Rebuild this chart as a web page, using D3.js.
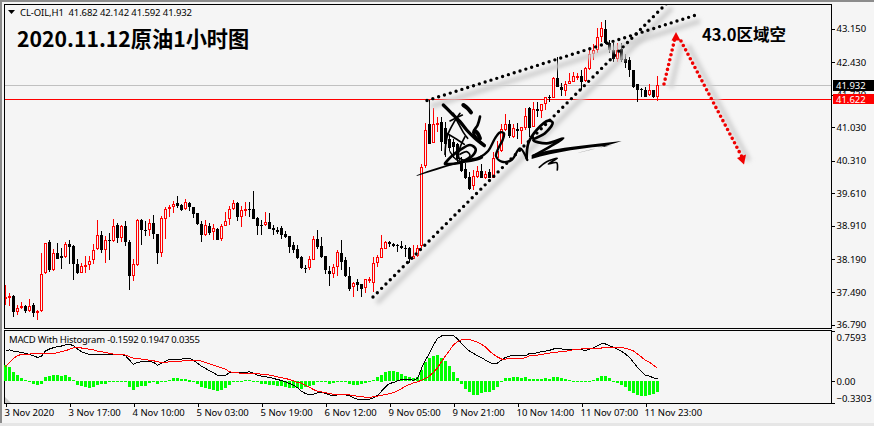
<!DOCTYPE html>
<html><head><meta charset="utf-8">
<script src="https://cdn.jsdelivr.net/npm/d3@7/dist/d3.min.js"></script>
<style>
html,body{margin:0;padding:0;background:#f5f5f5;overflow:hidden}
svg{display:block}
text{font-family:"Noto Sans",sans-serif;fill:#000}
</style></head><body><div id="c"></div>
<script>
const title="2020.11.12原油1小时图", note="43.0区域空";
const header="CL-OIL,H1  41.682 42.142 41.592 41.932";
const macdLabel="MACD With Histogram -0.1592 0.1947 0.0355";
const timeLabels=["3 Nov 2020","3 Nov 17:00","4 Nov 10:00","5 Nov 03:00","5 Nov 19:00","6 Nov 12:00","9 Nov 05:00","9 Nov 21:00","10 Nov 14:00","11 Nov 07:00","11 Nov 23:00"];
const timeBars=[0,16,32,48,64,80,96,112,128,144,160];
const priceTicks=[43.15,42.43,41.73,41.03,40.31,39.61,38.91,38.19,37.49,36.79];
const lastPrice=41.932, askPrice=41.622;
const macdTicks=[0.7593,0,-0.3303];
const highs=[37.65,37.47,37.42,37.22,37.28,37.21,37.35,37.26,37.11,38.32,38.55,38.60,38.42,38.55,38.44,38.56,38.60,38.51,38.21,38.12,38.27,38.27,38.52,39.03,38.80,38.69,38.76,39.05,38.97,38.94,39.01,38.60,38.19,39.06,39.06,39.01,39.05,39.15,38.74,39.13,39.32,39.37,39.44,39.55,39.39,39.48,39.43,39.32,39.18,39.01,39.03,38.97,38.96,38.87,38.95,39.22,39.33,39.46,39.42,39.33,39.43,39.43,39.65,39.10,39.03,39.21,39.19,38.94,38.89,38.90,38.80,38.70,38.56,38.51,38.26,38.08,38.26,38.69,38.83,38.67,38.27,38.04,38.10,38.40,38.60,38.24,38.03,37.71,37.78,37.67,37.78,37.81,38.24,38.29,38.72,38.58,38.58,38.55,38.53,38.58,38.51,38.45,38.50,38.51,40.25,41.13,41.62,41.45,41.26,41.24,41.15,40.87,40.77,40.70,40.40,40.27,40.06,40.12,40.19,40.23,40.10,40.14,40.49,40.74,41.09,41.32,41.19,41.09,41.13,41.04,41.45,41.47,41.58,41.58,41.52,41.69,41.73,42.10,42.53,41.99,42.03,42.20,42.22,42.20,42.27,42.33,42.70,42.81,43.17,43.30,43.34,42.91,42.85,42.85,42.85,42.61,42.55,42.27,41.97,41.88,41.90,41.97,41.84,42.142];
const lows=[37.22,37.18,36.95,36.99,37.13,37.04,37.06,36.95,36.88,37.06,37.87,37.92,37.94,38.19,37.99,38.22,38.09,37.74,37.87,37.89,37.89,37.97,38.10,38.40,38.32,38.12,38.17,38.56,38.55,38.57,38.47,37.54,37.72,38.04,38.51,38.69,38.69,38.62,38.10,38.25,38.63,39.10,39.19,39.30,39.23,39.25,39.23,39.08,38.92,38.56,38.70,38.72,38.60,38.60,38.58,38.90,38.92,39.26,39.01,38.88,39.12,39.10,39.05,38.71,38.71,38.90,38.85,38.71,38.74,38.62,38.65,38.32,38.32,38.21,37.99,37.89,37.96,38.17,38.42,38.22,37.87,37.63,37.79,37.83,37.97,37.81,37.51,37.38,37.51,37.38,37.46,37.69,37.49,38.03,38.22,38.42,38.46,38.46,38.34,38.42,38.24,38.12,38.19,38.24,38.44,40.16,40.68,40.70,40.92,40.51,40.40,40.51,40.38,40.27,40.06,39.91,39.69,39.69,39.95,39.93,39.91,39.93,39.93,40.38,40.49,40.96,40.81,40.81,40.77,40.66,40.98,40.83,41.04,41.26,41.22,41.41,41.58,41.65,41.90,41.71,41.71,41.95,42.01,42.05,41.84,42.01,42.27,42.48,42.63,42.87,42.81,42.63,42.44,42.44,42.44,42.31,42.12,41.88,41.58,41.67,41.67,41.71,41.65,41.592];
const opens=[37.36,37.36,37.41,37.06,37.14,37.20,37.08,37.22,37.04,37.08,37.89,38.56,37.96,38.32,38.27,38.24,38.53,38.47,38.10,37.89,38.04,38.06,38.17,38.42,38.72,38.39,38.60,38.58,38.92,38.64,38.90,38.57,37.84,38.06,39.03,38.83,38.82,38.98,38.74,38.32,39.05,39.27,39.32,39.41,39.35,39.27,39.41,39.32,39.18,38.95,38.72,38.91,38.78,38.85,38.62,38.91,39.06,39.28,39.40,39.10,39.25,39.28,39.28,39.07,38.94,38.93,39.00,38.87,38.83,38.87,38.74,38.70,38.49,38.42,38.24,38.01,38.00,38.17,38.62,38.47,38.27,37.95,37.87,38.03,38.32,38.17,37.84,37.59,37.71,37.67,37.57,37.75,37.69,38.12,38.23,38.42,38.57,38.53,38.50,38.47,38.44,38.44,38.21,38.26,38.47,40.19,41.11,40.70,41.11,41.15,41.02,40.77,40.72,40.66,40.27,40.14,39.97,39.76,39.97,40.08,39.95,40.06,39.95,40.38,40.51,40.98,41.09,40.83,41.00,40.94,41.02,41.45,41.04,41.43,41.37,41.52,41.69,41.65,42.08,41.90,41.80,41.97,42.01,42.12,42.14,42.03,42.29,42.61,42.68,42.98,43.15,42.85,42.70,42.50,42.72,42.50,42.48,42.27,41.95,41.86,41.82,41.73,41.82,41.682];
const closes=[37.38,37.40,37.06,37.15,37.20,37.08,37.20,37.03,37.08,37.88,38.55,37.96,38.32,38.21,38.23,38.53,38.45,38.09,37.89,38.05,38.07,38.16,38.40,38.72,38.39,38.60,38.58,38.90,38.64,38.90,38.56,37.84,38.10,39.03,38.83,38.82,38.97,38.73,38.32,39.09,39.28,39.32,39.38,39.33,39.25,39.43,39.31,39.16,38.95,38.71,38.93,38.76,38.87,38.60,38.91,39.02,39.28,39.40,39.10,39.25,39.28,39.25,39.05,38.90,38.90,39.00,38.85,38.82,38.77,38.71,38.67,38.45,38.39,38.23,38.00,38.00,38.21,38.62,38.45,38.24,37.96,37.87,38.03,38.34,38.13,37.84,37.56,37.69,37.65,37.56,37.76,37.78,38.12,38.25,38.44,38.57,38.52,38.48,38.47,38.43,38.42,38.21,38.27,38.44,40.17,40.98,40.68,41.11,41.13,40.72,40.66,40.59,40.61,40.34,40.08,39.95,39.71,39.99,40.08,39.95,40.03,39.95,40.38,40.51,41.00,41.09,40.85,41.02,40.94,41.04,41.28,41.02,41.43,41.37,41.52,41.67,41.65,42.08,41.90,41.82,41.95,42.03,42.14,42.14,42.01,42.31,42.61,42.68,42.98,43.17,42.83,42.70,42.50,42.68,42.48,42.42,42.27,41.90,41.84,41.84,41.69,41.82,41.69,41.932];
const histogram=[.243,.218,.142,.091,.041,.015,-.010,-.041,-.061,-.041,.056,.076,.091,.091,.081,.091,.066,.015,-.061,-.071,-.091,-.101,-.091,-.066,-.051,-.051,-.020,-.010,-.010,-.010,-.020,-.091,-.132,-.091,-.081,-.071,-.030,-.020,-.051,-.020,-.003,.015,.041,.041,.030,.030,.025,-.005,-.051,-.086,-.101,-.122,-.137,-.147,-.137,-.101,-.061,-.020,-.010,-.005,.015,.015,-.005,-.020,-.051,-.051,-.061,-.061,-.076,-.081,-.086,-.101,-.112,-.112,-.127,-.096,-.076,-.061,-.020,-.010,-.010,-.046,-.025,-.010,-.020,-.020,-.051,-.061,-.061,-.051,-.035,-.010,.015,.056,.101,.142,.152,.152,.132,.106,.081,.056,.041,.061,.167,.284,.355,.385,.395,.355,.309,.233,.142,.041,-.051,-.122,-.162,-.208,-.208,-.188,-.172,-.162,-.137,-.096,-.020,.041,.051,.066,.066,.051,.066,.030,.030,.030,.030,.041,.030,.056,.056,.041,.030,.015,.010,.002,-.010,-.020,-.005,.015,.051,.076,.076,.041,-.010,-.035,-.061,-.096,-.147,-.177,-.213,-.228,-.223,-.213,-.198,-.1592];
const macdLine=[.456,.472,.456,.446,.436,.421,.406,.385,.360,.380,.456,.487,.507,.522,.532,.548,.558,.537,.487,.446,.421,.406,.406,.411,.411,.406,.406,.406,.406,.406,.385,.319,.254,.284,.294,.299,.299,.284,.243,.269,.304,.330,.335,.335,.335,.345,.345,.319,.269,.228,.193,.157,.127,.091,.081,.091,.127,.132,.132,.127,.132,.142,.117,.091,.076,.066,.056,.041,.025,.010,-.010,-.035,-.061,-.101,-.152,-.188,-.203,-.198,-.177,-.167,-.188,-.208,-.223,-.208,-.203,-.208,-.223,-.254,-.274,-.279,-.284,-.274,-.254,-.213,-.152,-.086,-.035,-.020,.005,.025,.025,.025,.015,.041,.193,.319,.421,.548,.649,.684,.695,.695,.690,.639,.573,.507,.456,.421,.385,.355,.319,.284,.264,.274,.319,.360,.380,.390,.390,.395,.385,.421,.421,.431,.446,.456,.466,.487,.497,.487,.482,.482,.482,.482,.477,.466,.482,.507,.537,.568,.563,.537,.512,.482,.451,.411,.360,.284,.208,.142,.091,.076,.051,.0355];
const signalLine=[.218,.284,.345,.385,.406,.411,.411,.416,.416,.416,.416,.416,.421,.431,.446,.461,.482,.507,.512,.502,.492,.482,.472,.456,.446,.436,.421,.411,.406,.406,.395,.370,.350,.340,.335,.324,.319,.309,.294,.284,.284,.294,.294,.299,.304,.314,.314,.314,.314,.304,.284,.264,.243,.223,.203,.183,.142,.132,.127,.117,.117,.117,.117,.112,.106,.106,.091,.081,.066,.051,.041,.025,.005,-.020,-.030,-.061,-.091,-.127,-.152,-.162,-.172,-.188,-.198,-.203,-.203,-.203,-.208,-.218,-.228,-.233,-.243,-.243,-.238,-.228,-.213,-.203,-.188,-.172,-.147,-.112,-.076,-.051,-.025,-.010,.015,.041,.081,.132,.203,.294,.385,.466,.548,.598,.624,.629,.629,.613,.588,.558,.517,.456,.406,.365,.335,.335,.340,.345,.345,.345,.355,.385,.390,.395,.406,.416,.426,.431,.441,.446,.451,.466,.477,.482,.487,.487,.487,.492,.497,.502,.507,.512,.512,.512,.507,.497,.482,.456,.411,.365,.314,.284,.243,.1947];

const W=874,H=426,BG="#f5f5f5",L=4,R=831,T1=4,B1=328,T2=330,B2=403;
const svg=d3.select("#c").append("svg").attr("width",W).attr("height",H);
const defs=svg.append("defs");
defs.append("filter").attr("id","soft").attr("filterUnits","userSpaceOnUse").attr("x",0).attr("y",0).attr("width",W).attr("height",H)
  .append("feGaussianBlur").attr("stdDeviation",2.2);
defs.append("clipPath").attr("id","mainClip").append("rect").attr("x",L+1).attr("y",T1+1).attr("width",R-L-1).attr("height",B1-T1-1);

svg.append("rect").attr("width",W).attr("height",H).attr("fill",BG);
svg.append("rect").attr("width",W).attr("height",2).attr("fill","#8c8c8c");
svg.append("rect").attr("width",2).attr("height",H).attr("fill","#8c8c8c");
svg.append("rect").attr("y",H-3).attr("width",W).attr("height",3).attr("fill","#e6e6e6");

const x=d3.scaleLinear().domain([0,163]).range([5,657]);
const y=d3.scaleLinear().domain([36.79,43.15]).range([324.6,28.6]);
const ym=d3.scaleLinear().domain([-0.3303,0.7593]).range([B2,T2+1]);
const idx=d3.range(highs.length);
const px=i=>Math.round(x(i));
const ry=v=>Math.round(y(v));

const main=svg.append("g").attr("clip-path","url(#mainClip)");
main.append("line").attr("x1",L).attr("x2",R).attr("y1",Math.floor(y(lastPrice))+.5).attr("y2",Math.floor(y(lastPrice))+.5).attr("stroke","#c0c0c0");
main.append("line").attr("x1",L).attr("x2",R).attr("y1",Math.floor(y(askPrice))+.5).attr("y2",Math.floor(y(askPrice))+.5).attr("stroke","#ff0000");

const cg=main.append("g").attr("shape-rendering","crispEdges");
const up=i=>closes[i]>=opens[i];
cg.selectAll("line.w").data(idx).join("line").attr("class","w")
  .attr("x1",i=>px(i)+.5).attr("x2",i=>px(i)+.5)
  .attr("y1",i=>ry(highs[i])).attr("y2",i=>ry(lows[i]))
  .attr("stroke",i=>up(i)?"#ff0000":"#000");
cg.selectAll("rect.b").data(idx.filter(i=>!up(i))).join("rect").attr("class","b")
  .attr("x",i=>px(i)-1).attr("width",3)
  .attr("y",i=>ry(opens[i])).attr("height",i=>Math.max(1,ry(closes[i])-ry(opens[i])))
  .attr("fill","#000");
cg.selectAll("rect.r").data(idx.filter(up)).join("rect").attr("class","r")
  .attr("x",i=>px(i)-.5).attr("width",2)
  .attr("y",i=>ry(closes[i])+.5).attr("height",i=>Math.max(1,ry(opens[i])-ry(closes[i])-1))
  .attr("fill",BG).attr("stroke","#ff0000");

// hand-drawn annotations (screen coordinates)
const trendA=[[373,297],[668,2]], trendB=[[427,100.5],[696,15]];
const arrowA=[[664,84],[675,38]], arrowB=[[681,41],[742,157]];
const ln=d3.line();
[trendA,trendB].forEach(p=>{
  const s=p.map(d=>[d[0]+4,d[1]+6]);
  main.append("path").attr("d",ln(s)).attr("stroke","#cfcfcf").attr("stroke-width",5).attr("fill","none").attr("filter","url(#soft)");
});
[arrowA,arrowB].forEach(p=>{
  const s=p.map(d=>[d[0]+7,d[1]+4]);
  main.append("path").attr("d",ln(s)).attr("stroke","#d2d2d2").attr("stroke-width",5).attr("fill","none").attr("filter","url(#soft)");
});
[trendA,trendB].forEach(p=>main.append("path").attr("d",ln(p)).attr("stroke","#000").attr("stroke-width",3.4).attr("stroke-linecap","round").attr("stroke-dasharray","0 6.1").attr("fill","none"));
[arrowA,arrowB].forEach(p=>main.append("path").attr("d",ln(p)).attr("stroke","#f00000").attr("stroke-width",3.6).attr("stroke-linecap","round").attr("stroke-dasharray","0 5").attr("fill","none"));
main.append("path").attr("d","M676 32L671.500 40.500L680.500 40.500Z").attr("fill","#f00000");
main.append("path").attr("d","M744 164.500L737 158L746 154.500Z").attr("fill","#f00000");

// signature: left part traced at 425,95 (3x), right part at 400,80 (3x)
const sl=d3.line().curve(d3.curveCatmullRom);
const sgA=main.append("g").attr("transform","translate(425,95) scale(0.3333)");
[
 [[[55,30],[80,55],[105,80],[125,105],[150,130],[178,152]],10],
 [[[115,30],[128,40],[138,52]],12],
 [[[165,65],[158,90],[145,112],[160,135],[178,150]],8],
 [[[150,108],[158,115],[165,130]],12],
 [[[105,55],[85,85],[68,120],[62,150],[60,178]],5],
 [[[75,78],[95,68],[112,60]],5],
 [[[85,55],[100,85],[115,112],[128,130]],5],
 [[[65,115],[90,130],[118,148]],5],
 [[[120,125],[108,150],[100,178],[104,195]],5],
 [[[60,205],[78,185],[105,165],[135,150],[152,162],[140,185],[105,203],[60,207]],8],
 [[[105,178],[125,170],[135,182],[118,195],[105,190]],5],
 [[[75,170],[95,195],[115,200]],4]
].forEach(s=>sgA.append("path").attr("d",sl(s[0])).attr("fill","none").attr("stroke","#000").attr("stroke-width",s[1]).attr("stroke-linejoin","round").attr("stroke-linecap","round"));
const sg=main.append("g").attr("transform","translate(400,80) scale(0.3333)");
[
 [[[235,235],[265,212],[285,175],[300,157],[312,160],[308,180],[295,205],[288,228],[305,245],[335,240],[360,205],[382,240]],7],
 [[[380,235],[385,190],[410,150],[445,122],[458,128],[435,160],[400,180],[440,190],[490,175],[450,200],[400,228]],8],
 [[[418,262],[440,245],[472,235],[445,252],[470,248],[472,270]],5]
].forEach(s=>sg.append("path").attr("d",sl(s[0])).attr("fill","none").attr("stroke","#000").attr("stroke-width",s[1]).attr("stroke-linejoin","round").attr("stroke-linecap","round"));
sg.append("path").attr("d","M50 286C90 268 130 258 190 240C215 233 230 235 245 225L250 234C230 247 200 247 170 252C130 262 90 277 50 288Z").attr("fill","#000");
sg.append("path").attr("d","M395 225C450 205 560 195 665 183C620 198 590 205 530 220C575 208 610 200 640 196C560 202 460 217 395 237Z").attr("fill","#000");

// frames
svg.append("rect").attr("x",L+.5).attr("y",T1+.5).attr("width",R-L).attr("height",B1-T1).attr("fill","none").attr("stroke","#000");
svg.append("rect").attr("x",L+.5).attr("y",T2+.5).attr("width",R-L).attr("height",B2-T2).attr("fill","none").attr("stroke","#000");

// axes
function styleAxis(g){g.select(".domain").remove();g.selectAll("line").attr("stroke","#000").attr("shape-rendering","crispEdges");
  g.selectAll("text").attr("font-family",'"Noto Sans",sans-serif').attr("font-size",9.5).attr("fill","#000");}
const ax=d3.axisRight(y).tickValues(priceTicks).tickFormat(d3.format(".3f")).tickSize(3).tickPadding(2);
svg.append("g").attr("transform",`translate(${R+.5},0)`).call(ax).call(styleAxis);
const am=d3.axisRight(ym).tickValues(macdTicks).tickFormat(d=>d===0?"0.00":d3.format(".4f")(d)).tickSize(3).tickPadding(2);
const amg=svg.append("g").attr("transform",`translate(${R+.5},0)`).call(am).call(styleAxis);
amg.selectAll("text").attr("dy",d=>d>0.5?"1.05em":d<-0.2?"-0.2em":"0.4em");
const labelByBar=new Map(timeBars.map((b,i)=>[b,timeLabels[i]]));
const at=d3.axisBottom(x).tickValues(timeBars).tickFormat(b=>labelByBar.get(b)).tickSize(3).tickPadding(3);
const atg=svg.append("g").attr("transform",`translate(.5,${B2+.5})`).call(at).call(styleAxis);
atg.selectAll("text").attr("text-anchor","start").attr("x",-1.5);

// last-price tags
svg.append("rect").attr("x",833).attr("y",80).attr("width",41).attr("height",11).attr("fill","#000");
svg.append("rect").attr("x",833).attr("y",94).attr("width",41).attr("height",10).attr("fill","#f00");
svg.append("text").attr("x",836).attr("y",89).attr("font-size",9.5).style("fill","#fff").text(d3.format(".3f")(lastPrice));
svg.append("text").attr("x",836).attr("y",102.500).attr("font-size",9.5).style("fill","#fff").text(d3.format(".3f")(askPrice));

// header
svg.append("path").attr("d","M8 10L15 10L11.500 14Z").attr("fill","#000");
svg.append("text").attr("x",20).attr("y",16).attr("font-size",9.5).attr("textLength",172).attr("lengthAdjust","spacing").style("white-space","pre").text(header);
svg.append("text").attr("x",17).attr("y",47).attr("font-size",21.2).attr("font-weight",700).style("font-family",'"Noto Sans CJK SC","Noto Sans",sans-serif').text(title);
svg.append("text").attr("x",702).attr("y",41).attr("font-size",16.5).attr("font-weight",700).style("font-family",'"Noto Sans CJK SC","Noto Sans",sans-serif').text(note);

// MACD panel
const mg=svg.append("g");
mg.append("g").attr("shape-rendering","crispEdges").selectAll("rect").data(idx).join("rect")
  .attr("x",i=>px(i)-1).attr("width",3)
  .attr("y",i=>histogram[i]>=0?Math.round(ym(histogram[i])):Math.round(ym(0)))
  .attr("height",i=>Math.max(1,Math.round(Math.abs(ym(histogram[i])-ym(0)))))
  .attr("fill","#00ff00");
const ml=d3.line().x(i=>px(i)+.5);
mg.append("path").attr("d",ml.y(i=>ym(macdLine[i]))(idx)).attr("fill","none").attr("stroke","#000").attr("stroke-width",1).attr("shape-rendering","crispEdges");
mg.append("path").attr("d",ml.y(i=>ym(signalLine[i]))(idx)).attr("fill","none").attr("stroke","#ff0000").attr("stroke-width",1).attr("shape-rendering","crispEdges");
mg.append("path").attr("d",`M${L+1} ${B2}L${L+1} ${B2-6}L${L+7} ${B2}Z`).attr("fill","#c8c8c8");
svg.append("text").attr("x",9).attr("y",343).attr("font-size",9.5).attr("textLength",191).attr("lengthAdjust","spacing").text(macdLabel);
</script></body></html>
